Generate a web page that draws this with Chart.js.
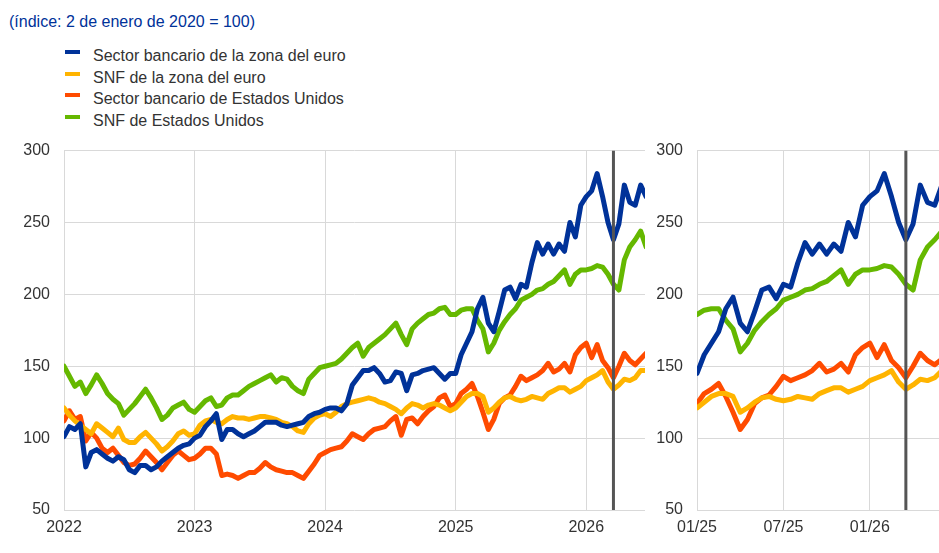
<!DOCTYPE html>
<html>
<head>
<meta charset="utf-8">
<script src="https://cdn.jsdelivr.net/npm/chart.js@4.4.0/dist/chart.umd.min.js"></script>
<style>
  body{margin:0;width:939px;height:553px;overflow:hidden;background:#fff;position:relative;
       font-family:"Liberation Sans",Arial,sans-serif}
  #title{position:absolute;left:9px;top:13px;font-size:16px;color:#003299;white-space:nowrap}
  #legend{position:absolute;left:65px;top:45px}
  .lg{position:relative;height:21.5px;line-height:21.5px;font-size:16px;color:#333;padding-left:28px;white-space:nowrap}
  .lg i{position:absolute;left:0;top:5px;width:15px;height:4px}
  #wl{position:absolute;left:0;top:127px;width:650px;height:426px}
  #wr{position:absolute;left:650px;top:127px;width:289px;height:426px}
</style>
</head>
<body>
<div id="title">(índice: 2 de enero de 2020 = 100)</div>
<div id="legend"></div>
<div id="wl"><canvas id="cl"></canvas></div>
<div id="wr"><canvas id="cr"></canvas></div>
<script>
/* series: one value every half month, starting 1 Jan 2022 (x = months since Jan 2022) */
const STEP = 0.5;

const BANK_EA = [
  101,108,106,110, 80, 90, 92, 89, 86, 84, 87, 85,
   78, 76, 81, 81, 78, 80, 84, 87, 90, 93, 95, 96,
  100,102,108,112,117, 99,106,106,103,101,103,105,
  108,111,111,111,109,108,109,110,111,115,117,118,
  120,121,121,119,124,137,142,147,147,149,145,139,
  140,146,145,133,144,145,147,148,149,145,141,145,
  145,158,166,174,190,198,180,174,188,203,205,197,
  207,205,222,236,228,235,228,235,230,250,240,262,
  268,272,284,268,250,238,249,276,264,262,276,268
];
const NFC_EA = [
  121,116,112,109,106,103,110,107,104,101,107, 99,
   97, 97,101,104,100, 96, 91, 94, 98,103,105,102,
  103,109,112,113,111,110,113,115,114,114,113,114,
  115,115,114,113,111,110,108,105,104,110,114,116,
  117,115,118,122,124,125,126,127,128,127,125,124,
  122,120,117,121,124,123,121,123,124,123,121,119,
  121,125,129,131,131,129,118,121,125,128,129,127,
  126,127,129,128,127,131,133,135,135,132,134,136,
  140,142,144,147,139,134,137,141,140,142,147,147
];
const BANK_US = [
  112,119,113,115, 98,104,100, 93, 90, 93, 88, 83,
   81, 82, 86, 91, 87, 83, 78, 83, 88, 91, 88, 85,
   86, 89, 93, 93, 89, 74, 75, 74, 72, 74, 76, 76,
   79, 83, 80, 78, 77, 76, 76, 74, 72, 77, 82, 88,
   90, 92, 93, 94, 98,103,101, 99,103,106,107,108,
  112,115,102,113,114,110,115,119,122,128,130,122,
  124,131,134,138,129,118,106,113,124,128,130,136,
  143,140,142,144,147,152,146,148,152,146,158,163,
  166,156,165,154,149,142,150,159,154,151,155,159
];
const NFC_US = [
  150,143,136,139,131,137,144,138,131,127,124,116,
  120,124,129,134,128,121,113,116,121,123,125,120,
  118,122,126,128,122,123,128,130,130,133,136,138,
  140,142,144,139,142,141,136,133,131,141,145,149,
  150,151,152,155,159,163,166,157,163,166,169,172,
  176,180,172,165,176,180,183,186,187,190,191,186,
  186,189,190,190,182,176,160,166,175,181,186,190,
  196,198,200,203,204,207,209,213,217,207,214,217,
  217,218,220,219,214,207,203,224,233,238,244,233
];

const SERIES = [
  {label:'Sector bancario de la zona del euro', data:BANK_EA, color:'#003299', order:1},
  {label:'SNF de la zona del euro',             data:NFC_EA,  color:'#FFB400', order:2},
  {label:'Sector bancario de Estados Unidos',   data:BANK_US, color:'#FF4B00', order:3},
  {label:'SNF de Estados Unidos',               data:NFC_US,  color:'#65B800', order:4}
];

const EVENT_MONTH = 50.5;           // vertical marker, mid-March 2026
const Y_MIN = 50, Y_MAX = 300, Y_STEP = 50;
const LEFT_TICKS  = {min:0,  max:53.4, step:12};   // 2022 .. 2026
const RIGHT_TICKS = {min:36, max:52.8, step:6};    // 01/25 .. 01/26
const RIGHT_LABELS = {36:'01/25', 42:'07/25', 48:'01/26'};

const GRID = '#D9D9D9';
const TXT = '#333333';

function pts(arr){ return arr.map((v,i)=>({x:i*STEP, y:v})); }

document.getElementById('legend').innerHTML = SERIES.map(s =>
  `<div class="lg"><i style="background:${s.color}"></i>${s.label}</div>`).join('');

function mkPanel(id, rng, yWidth, padRight, fmt){
  const datasets = SERIES.map(s => ({
    label:s.label, data:pts(s.data), borderColor:s.color, backgroundColor:s.color,
    borderWidth:5, pointRadius:0, tension:0, order:s.order, clip:0,
    borderJoinStyle:'round', borderCapStyle:'round'
  }));
  datasets.push({
    label:'evento', data:[{x:EVENT_MONTH,y:Y_MIN},{x:EVENT_MONTH,y:Y_MAX}],
    borderColor:'#555555', borderWidth:3, pointRadius:0, order:0, clip:0
  });
  new Chart(document.getElementById(id), {
    type:'line',
    data:{datasets},
    options:{
      responsive:true, maintainAspectRatio:false, animation:false,
      layout:{padding:{top:10, right:padRight, left:0, bottom:0}},
      plugins:{legend:{display:false}, tooltip:{enabled:false}},
      scales:{
        x:{
          type:'linear', min:rng.min, max:rng.max,
          grid:{color:GRID, lineWidth:1, drawTicks:false},
          border:{display:false},
          ticks:{stepSize:rng.step, includeBounds:false, padding:8, maxRotation:0,
                 color:TXT, font:{size:16}, callback:fmt},
          afterFit(s){ s.height = 43; }
        },
        y:{
          min:Y_MIN, max:Y_MAX,
          grid:{color:GRID, lineWidth:1, drawTicks:false},
          border:{display:false},
          ticks:{stepSize:Y_STEP, padding:14, color:TXT, font:{size:16}},
          afterFit(s){ s.width = yWidth; }
        }
      }
    }
  });
}

Chart.defaults.font.family = '"Liberation Sans", Arial, sans-serif';
mkPanel('cl', LEFT_TICKS, 64, 5, v => String(2022 + Math.round(v/12)));
mkPanel('cr', RIGHT_TICKS, 47, 0, v => RIGHT_LABELS[v] ?? '');
</script>
</body>
</html>
